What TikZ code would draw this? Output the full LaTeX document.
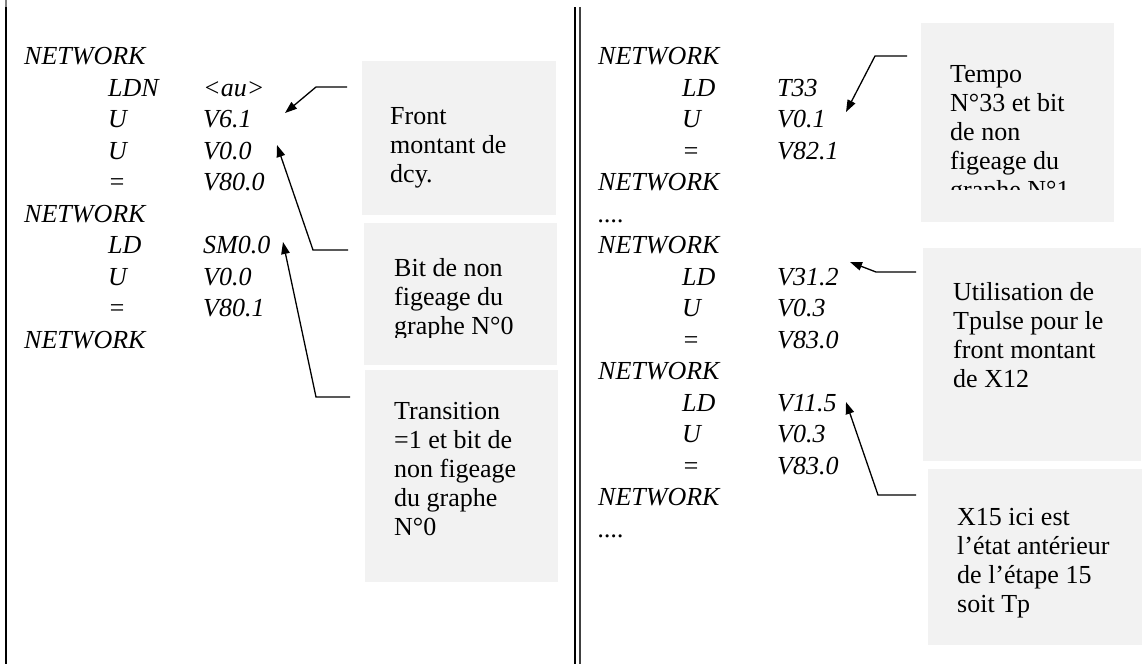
\documentclass[tikz,border=0pt]{standalone}
\usepackage{fontspec}
\setmainfont{Liberation Serif}
\usetikzlibrary{arrows.meta}
\definecolor{boxgray}{HTML}{F2F2F2}
\tikzset{
  code/.style={anchor=base west, inner sep=0pt, font=\fontsize{26}{31}\selectfont\itshape},
  note/.style={anchor=north west, inner sep=0pt, align=left, font=\fontsize{26}{29}\selectfont},
  panel/.style={fill=boxgray, draw=none},
  callout/.style={line width=1.3pt, -{Triangle[length=12pt,width=8.5pt]}},
  rule/.style={line width=2.2pt, black},
}
\begin{document}
\begin{tikzpicture}[x=1pt,y=-1pt]
\useasboundingbox (0,0) rectangle (1147,664);
% frame lines
\draw[line width=1.6pt, gray] (6,0) -- (6,7);
\draw[rule] (6,7) -- (6,664);
\draw[rule] (575,7) -- (575,664);
\draw[line width=2pt, black!75] (579.5,7) -- (579.5,664);

% ---------- left code (baseline = 64.5 + 31.5 k) ----------
\node[code] (l0) at (24,64.5) {NETWORK};
\node[code] (l1a) at (108,96) {LDN};    \node[code] (l1b) at (203,96) {<au>};
\node[code] (l2a) at (108,127.5) {U};   \node[code] (l2b) at (203,127.5) {V6.1};
\node[code] (l3a) at (108,159) {U};     \node[code] (l3b) at (203,159) {V0.0};
\node[code] (l4a) at (108,190.5) {=};   \node[code] (l4b) at (203,190.5) {V80.0};
\node[code] (l5) at (24,222) {NETWORK};
\node[code] (l6a) at (108,253.5) {LD};  \node[code] (l6b) at (203,253.5) {SM0.0};
\node[code] (l7a) at (108,285) {U};     \node[code] (l7b) at (203,285) {V0.0};
\node[code] (l8a) at (108,316.5) {=};   \node[code] (l8b) at (203,316.5) {V80.1};
\node[code] (l9) at (24,348) {NETWORK};

% ---------- left notes ----------
\fill[panel] (362,61) rectangle (556,215);
\node[note] (n1) at (390,107.5) {Front\\montant de\\dcy.};
\fill[panel] (364,223) rectangle (557,365);
\begin{scope}
  \clip (364,223) rectangle (557,337);
  \node[note] (n2) at (394,258.5) {Bit de non\\figeage du\\graphe N°0};
\end{scope}
\fill[panel] (365,370) rectangle (558,582);
\node[note] (n3) at (394,402.5) {Transition\\=1 et bit de\\non figeage\\du graphe\\N°0};

% ---------- left arrows ----------
\coordinate (a1s) at (347,87);  \coordinate (a1k) at (316,87);  \coordinate (a1t) at (285,113);
\coordinate (a2s) at (348,250); \coordinate (a2k) at (313,250); \coordinate (a2t) at (277,145);
\coordinate (a3s) at (350,397); \coordinate (a3k) at (316,397); \coordinate (a3t) at (283,242);
\draw[callout] (a1s) -- (a1k) -- (a1t);
\draw[callout] (a2s) -- (a2k) -- (a2t);
\draw[callout] (a3s) -- (a3k) -- (a3t);

% ---------- right code (same rows) ----------
\node[code] (r0) at (598,64.5) {NETWORK};
\node[code] (r1a) at (682,96) {LD};    \node[code] (r1b) at (777,96) {T33};
\node[code] (r2a) at (682,127.5) {U};  \node[code] (r2b) at (777,127.5) {V0.1};
\node[code] (r3a) at (682,159) {=};    \node[code] (r3b) at (777,159) {V82.1};
\node[code] (r4) at (598,190.5) {NETWORK};
\node[code] (r5) at (598,222) {....};
\node[code] (r6) at (598,253.5) {NETWORK};
\node[code] (r7a) at (682,285) {LD};   \node[code] (r7b) at (777,285) {V31.2};
\node[code] (r8a) at (682,316.5) {U};  \node[code] (r8b) at (777,316.5) {V0.3};
\node[code] (r9a) at (682,348) {=};    \node[code] (r9b) at (777,348) {V83.0};
\node[code] (r10) at (598,379.5) {NETWORK};
\node[code] (r11a) at (682,411) {LD};  \node[code] (r11b) at (777,411) {V11.5};
\node[code] (r12a) at (682,442.5) {U}; \node[code] (r12b) at (777,442.5) {V0.3};
\node[code] (r13a) at (682,474) {=};   \node[code] (r13b) at (777,474) {V83.0};
\node[code] (r14) at (598,505.5) {NETWORK};
\node[code] (r15) at (598,537) {....};

% ---------- right notes ----------
\fill[panel] (921,23) rectangle (1114,222);
\begin{scope}
  \clip (921,23) rectangle (1114,189);
  \node[note] (m1) at (950,65.5) {Tempo\\N°33 et bit\\de non\\figeage du\\graphe N°1};
\end{scope}
\fill[panel] (923,248) rectangle (1141,461);
\node[note] (m2) at (953,282.5) {Utilisation de\\Tpulse pour le\\front montant\\de X12};
\fill[panel] (928,469) rectangle (1142,645);
\node[note] (m3) at (957,508.5) {X15 ici est\\l’état antérieur\\de l’étape 15\\soit Tp};

% ---------- right arrows ----------
\coordinate (b1s) at (907,56);  \coordinate (b1k) at (875,56);  \coordinate (b1t) at (846,112);
\coordinate (b2s) at (916,272); \coordinate (b2k) at (876,272); \coordinate (b2t) at (850,262);
\coordinate (b3s) at (916,495); \coordinate (b3k) at (878,495); \coordinate (b3t) at (846,402);
\draw[callout] (b1s) -- (b1k) -- (b1t);
\draw[callout] (b2s) -- (b2k) -- (b2t);
\draw[callout] (b3s) -- (b3k) -- (b3t);
\end{tikzpicture}
\end{document}
